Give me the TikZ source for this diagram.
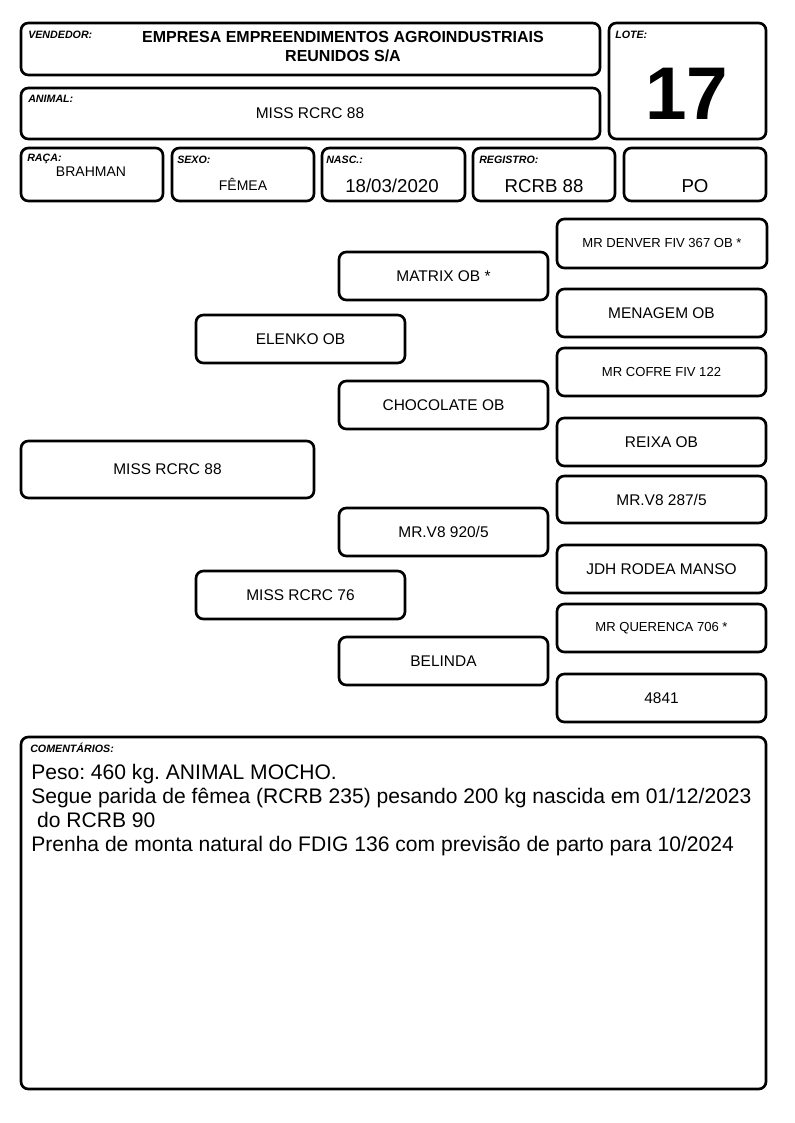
\documentclass[tikz,border=0pt]{standalone}
\usepackage{fontspec}
\setmainfont{Liberation Sans}
\usetikzlibrary{fit}
\frenchspacing
\tikzset{
  box/.style={draw=black, line width=2pt, rounded corners=5.5pt, inner sep=0pt, fill=white},
  lbl/.style={anchor=west, inner sep=0pt, font=\fontsize{8}{9}\selectfont\bfseries\itshape},
  nm/.style={inner sep=0pt, font=\fontsize{11.6}{13}\selectfont},
  nmsmall/.style={inner sep=0pt, font=\fontsize{9.8}{12}\selectfont},
  big/.style={inner sep=0pt, font=\fontsize{14}{16}\selectfont},
  mid/.style={inner sep=0pt, font=\fontsize{10.5}{12}\selectfont},
}
\begin{document}
\begin{tikzpicture}[x=0.75pt,y=-0.75pt]
\useasboundingbox[fill=white] (0,0) rectangle (794,1123);
% header boxes
\node[box, fit={(21,23) (600,75)}] (vend) {};
\node[box, fit={(609,23) (766,139)}] (lote) {};
\node[box, fit={(21,88) (600,139)}] (animal) {};
\node[box, fit={(21,148) (163,201)}] (raca) {};
\node[box, fit={(172,148) (314,201)}] (sexo) {};
\node[box, fit={(322,148) (465,201)}] (nasc) {};
\node[box, fit={(473,148) (615,201)}] (reg) {};
\node[box, fit={(624,148) (766,201)}] (po) {};
% header texts
\node[lbl] (lvend) at (28,35) {VENDEDOR:};
\node[inner sep=0pt, align=center, font=\fontsize{12}{14.3}\selectfont\bfseries] (tvend) at (343,46.5) {EMPRESA EMPREENDIMENTOS AGROINDUSTRIAIS\\REUNIDOS S/A};
\node[lbl] (llote) at (615,35) {LOTE:};
\node[inner sep=0pt, font=\fontsize{56}{60}\selectfont\bfseries] (tlote) at (687,94) {17};
\node[lbl] (lanimal) at (28,99) {ANIMAL:};
\node[nm] (tanimal) at (310,113) {MISS RCRC 88};
\node[lbl] (lraca) at (27,159) {RAÇA:};
\node[mid] (traca) at (91,172) {BRAHMAN};
\node[lbl] (lsexo) at (177,160) {SEXO:};
\node[mid] (tsexo) at (243,184) {FÊMEA};
\node[lbl] (lnasc) at (326,160) {NASC.:};
\node[big] (tnasc) at (392,186) {18/03/2020};
\node[lbl] (lreg) at (479,160) {REGISTRO:};
\node[big] (treg) at (544,186) {RCRB 88};
\node[big] (tpo) at (695,186) {PO};
% pedigree boxes
\node[box, fit={(21,441) (314,498)}] (g1) {};
\node[box, fit={(196,315) (405,363)}] (g2a) {};
\node[box, fit={(196,571) (405,619)}] (g2b) {};
\node[box, fit={(339,252) (548,300)}] (g3a) {};
\node[box, fit={(339,381) (548,429)}] (g3b) {};
\node[box, fit={(339,508) (548,556)}] (g3c) {};
\node[box, fit={(339,637) (548,685)}] (g3d) {};
\node[box, fit={(557,219) (767,268)}] (g4a) {};
\node[box, fit={(557,289) (766,337)}] (g4b) {};
\node[box, fit={(557,348) (766,396)}] (g4c) {};
\node[box, fit={(557,418) (766,466)}] (g4d) {};
\node[box, fit={(557,476) (766,523)}] (g4e) {};
\node[box, fit={(557,545) (766,593)}] (g4f) {};
\node[box, fit={(557,604) (766,652)}] (g4g) {};
\node[box, fit={(557,674) (766,722)}] (g4h) {};
% pedigree texts
\node[nm] (t1) at (g1.center) {MISS RCRC 88};
\node[nm] (t2a) at (g2a.center) {ELENKO OB};
\node[nm] (t2b) at (g2b.center) {MISS RCRC 76};
\node[nm] (t3a) at (g3a.center) {MATRIX OB *};
\node[nm] (t3b) at (g3b.center) {CHOCOLATE OB};
\node[nm] (t3c) at (g3c.center) {MR.V8 920/5};
\node[nm] (t3d) at (g3d.center) {BELINDA};
\node[nmsmall] (t4a) at (g4a.center) {MR DENVER FIV 367 OB *};
\node[nm] (t4b) at (g4b.center) {MENAGEM OB};
\node[nmsmall] (t4c) at (g4c.center) {MR COFRE FIV 122};
\node[nm] (t4d) at (g4d.center) {REIXA OB};
\node[nm] (t4e) at (g4e.center) {MR.V8 287/5};
\node[nm] (t4f) at (g4f.center) {JDH RODEA MANSO};
\node[nmsmall] (t4g) at (g4g.center) {MR QUERENCA 706 *};
\node[nm] (t4h) at (g4h.center) {4841};
% comments
\node[box, fit={(21,737) (766,1089)}] (coment) {};
\node[lbl] (lcoment) at (30,748) {COMENTÁRIOS:};
\node[anchor=north west, inner sep=0pt, align=left, font=\fontsize{15.8}{18}\selectfont] (tcoment) at (31,764) {Peso: 460 kg. ANIMAL MOCHO.\\Segue parida de fêmea (RCRB 235) pesando 200 kg nascida em 01/12/2023\\\ do RCRB 90\\Prenha de monta natural do FDIG 136 com previsão de parto para 10/2024};
\end{tikzpicture}
\end{document}
